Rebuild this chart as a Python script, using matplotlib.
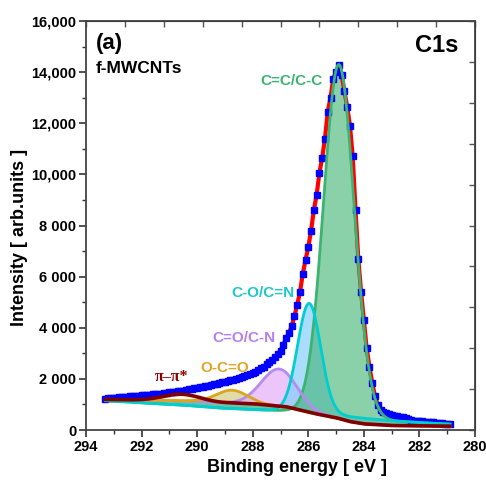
import numpy as np
import matplotlib
matplotlib.use("Agg")
import matplotlib.pyplot as plt
from matplotlib.ticker import FixedLocator, MultipleLocator

plt.rcParams['font.family'] = ['Liberation Sans', 'DejaVu Sans']
plt.rcParams['font.weight'] = 'bold'

# measured C1s spectrum, 0.1 eV step from 293.3 down to 280.9 eV
energy = np.round(np.arange(293.3, 280.85, -0.1), 1)
intensity = [
    1230, 1240, 1250, 1260, 1270, 1280, 1290, 1300, 1310, 1320,
    1330, 1340, 1345, 1355, 1360, 1370, 1380, 1390, 1400, 1415,
    1425, 1440, 1455, 1470, 1485, 1500, 1515, 1530, 1545, 1565,
    1585, 1605, 1625, 1645, 1670, 1690, 1710, 1735, 1760, 1790,
    1815, 1840, 1865, 1890, 1915, 1940, 1970, 2000, 2040, 2080,
    2120, 2160, 2190, 2220, 2280, 2350, 2410, 2480, 2580, 2650,
    2740, 2860, 2970, 3110, 3330, 3580, 3790, 4050, 4450, 4900,
    5380, 6100, 6650, 7150, 7800, 8600, 9200, 10050, 10650, 11400,
    12450, 13000, 13750, 14000, 14280, 13900, 13250, 12650, 11900, 10700,
    8600, 6700, 5400, 4300, 3200, 2480, 1850, 1330, 980, 800,
    700, 650, 610, 585, 560, 540, 520, 495, 460, 420,
    390, 370, 355, 345, 335, 330, 325, 315, 300, 285,
    272, 262, 252, 243, 235,
]

# Shirley background (dark red line) and the lower baseline of the C=C / C-O peaks
bg_e = [293.3, 292.0, 291.0, 290.0, 289.2, 288.0, 286.8, 285.8, 285.0, 284.5, 284.0, 283.0, 281.0, 280.9]
bg_v = [1195, 1170, 1150, 1130, 1075, 1030, 910, 650, 480, 330, 240, 175, 150, 150]
base2_e = [293.3, 292.0, 290.6, 289.2, 288.0, 286.8, 285.6, 285.0, 284.5, 284.0, 283.0, 282.0, 281.0, 280.9]
base2_v = [1150, 1060, 980, 860, 800, 750, 660, 590, 520, 460, 360, 290, 235, 230]

# fitted components: name, centre (eV), height, FWHM (eV), baseline
peaks = [
    ("pi", 290.6, 260, 1.5, "bg"),
    ("OCO", 288.75, 500, 1.3, "bg"),
    ("CO_CN", 287.05, 1450, 1.5, "bg"),
    ("CO_CN2", 285.97, 4265, 0.98, "base2"),
    ("CC", 284.9, 13720, 1.29, "base2"),
]
line_colors = {"pi": "#800000", "OCO": "#daa520", "CO_CN": "#b48cf0",
               "CO_CN2": "#00cdd0", "CC": "#3cb371"}
fill_colors = {"pi": "#fff6d8", "OCO": "#c8c060", "CO_CN": "#e2a8fa",
               "CO_CN2": "#87cefa", "CC": "#3cb371"}
fill_alpha = {"pi": 0.8, "OCO": 0.55, "CO_CN": 0.65, "CO_CN2": 0.7, "CC": 0.6}

x_ticks = [294, 292, 290, 288, 286, 284, 282, 280]
y_ticks = [0, 2000, 4000, 6000, 8000, 10000, 12000, 14000, 16000]
y_tick_labels = ["0", "2 000", "4 000", "6 000", "8 000", "10,000", "12,000", "14,000", "16,000"]

fig = plt.figure(figsize=(4.86, 4.82), dpi=100)
ax = fig.add_axes([86/486, 1-430/482, 389/486, 409/482])

xf = np.linspace(293.3, 280.9, 1200)
bg = np.interp(xf, bg_e[::-1], bg_v[::-1])
base2 = np.interp(xf, base2_e[::-1], base2_v[::-1])

curves = {}
for name, c, h, w, b in peaks:
    g = h * np.exp(-4*np.log(2)*(xf-c)**2/w**2)
    curves[name] = (bg if b == "bg" else base2) + g

# fills first, then the outlines
for name, *_ in peaks:
    ax.fill_between(xf, bg, curves[name], color=fill_colors[name],
                    alpha=fill_alpha[name], linewidth=0, zorder=2)

ax.plot(energy, intensity, color="#ff0000", lw=3, zorder=3)
ax.plot(energy, intensity, ls="none", marker="s", ms=5, color="#0000ff", zorder=4)

for name in ["CC", "CO_CN", "OCO", "CO_CN2"]:
    ax.plot(xf, curves[name], color=line_colors[name], lw=2, zorder=5)
ax.plot(xf, curves["pi"], color=line_colors["pi"], lw=2.6, zorder=6)

ax.set_xlim(294, 280)
ax.set_ylim(0, 16000)
ax.xaxis.set_major_locator(FixedLocator(x_ticks))
ax.set_xticklabels([str(t) for t in x_ticks])
ax.xaxis.set_minor_locator(MultipleLocator(1))
ax.yaxis.set_major_locator(FixedLocator(y_ticks))
ax.set_yticklabels(y_tick_labels)
ax.yaxis.set_minor_locator(MultipleLocator(1000))
ax.tick_params(which="major", length=5, width=1.2, labelsize=10.5, pad=2, color="#333333")
ax.tick_params(which="minor", length=3, width=1.0, color="#333333")
for s in ax.spines.values():
    s.set_color("#444444")
    s.set_linewidth(1.3)

# inward ticks on top / right like Origin
top = ax.secondary_xaxis("top")
top.set_xticks(np.linspace(294, 280, 11))
top.set_xticklabels([])
top.tick_params(direction="in", length=4, width=1.0, color="#555555")
right = ax.secondary_yaxis("right")
right.set_yticks(np.linspace(0, 16000, 11))
right.set_yticklabels([])
right.tick_params(direction="in", length=4, width=1.0, color="#555555")

fig.text(297/486, 1-468/482, "Binding energy [ eV ]", ha="center", va="center", fontsize=13, weight="bold")
fig.text(19/486, 1-237/482, "Intensity [ arb.units ]", ha="center", va="center",
         rotation=90, fontsize=13, weight="bold")

ax.text(0.026, 0.946, "(a)", transform=ax.transAxes, fontsize=16, weight="bold", va="center")
ax.text(0.026, 0.883, "f-MWCNTs", transform=ax.transAxes, fontsize=12.5, weight="bold", va="center")
ax.text(0.956, 0.941, "C1s", transform=ax.transAxes, fontsize=17, weight="bold", va="center", ha="right")
ax.text(0.447, 0.853, "C=C/C-C", transform=ax.transAxes, fontsize=11, weight="bold",
        va="center", color="#3cb371")
ax.text(0.537, 0.335, "C-O/C=N", transform=ax.transAxes, fontsize=11, weight="bold",
        va="center", ha="right", color="#1ec8c8")
ax.text(0.326, 0.225, "C=O/C-N", transform=ax.transAxes, fontsize=11, weight="bold",
        va="center", color="#b580f0")
ax.text(0.293, 0.152, "O-C=O", transform=ax.transAxes, fontsize=11, weight="bold",
        va="center", color="#e0a526")
ax.text(0.177, 0.130, "π–π*", transform=ax.transAxes, fontsize=11.5, weight="bold",
        va="center", color="#8b0000", family=["Liberation Serif", "DejaVu Serif"])

fig.savefig("out.png", dpi=100)
